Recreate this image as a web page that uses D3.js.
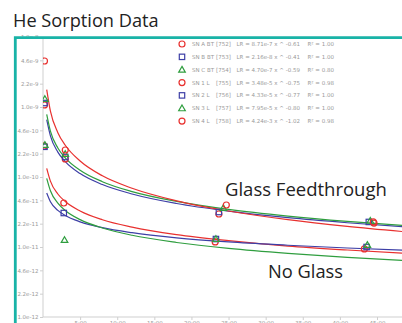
<!DOCTYPE html>
<html lang="en">
<head>
<meta charset="UTF-8">
<title>He Sorption Data</title>
<script src="https://d3js.org/d3.v7.min.js"></script>
<style>
  body { margin: 0; background: #fff; }
  svg { display: block; }
  .axis path, .axis line { stroke: #cfcfcf; }
  .axis text { fill: #9a9a9a; font-family: "DejaVu Sans", sans-serif; font-size: 5.5px; }
  .legend text { fill: #9a9a9a; font-family: "DejaVu Sans", sans-serif; font-size: 5.5px; }
  .big { fill: #222; font-family: "Open Sans", sans-serif; }
</style>
</head>
<body>
<svg width="402" height="323"></svg>
<script>
// series in legend order
const names  = ["SN A BT", "SN B BT", "SN C BT", "SN 1 L", "SN 2 L", "SN 3 L", "SN 4 L"];
const codes  = ["[752]", "[753]", "[754]", "[755]", "[756]", "[757]", "[758]"];
const fits   = ["LR = 8.71e-7 x ^ -0.61", "LR = 2.16e-8 x ^ -0.41", "LR = 4.70e-7 x ^ -0.59",
                "LR = 3.48e-5 x ^ -0.75", "LR = 4.33e-5 x ^ -0.77", "LR = 7.95e-5 x ^ -0.80",
                "LR = 4.24e-3 x ^ -1.02"];
const r2     = ["R² = 1.00", "R² = 1.00", "R² = 0.80", "R² = 0.98", "R² = 1.00", "R² = 1.00", "R² = 0.98"];
const colors = ["#e8312f", "#3d3fa6", "#2f9e3f", "#e8312f", "#3d3fa6", "#2f9e3f", "#e8312f"];
const shapes = ["circle", "square", "triangle", "circle", "square", "triangle", "circle"];

// measured points (hours, leak rate)
const ptTimes = [
  [0.2, 2.8, 23.2, 43.3],
  [0.2, 2.8, 23.3, 43.6],
  [0.25, 2.9, 23.3, 43.7],
  [0.2, 3.0, 23.7, 44.6],
  [0.2, 3.0, 23.7, 43.9],
  [0.25, 3.0, 24.3, 44.1],
  [0.2, 3.0, 24.7, 44.5]
];
const ptValues = [
  [2.77e-10, 4.25e-11, 1.18e-11, 9.4e-12],
  [2.7e-10, 3.06e-11, 1.30e-11, 1.0e-11],
  [2.87e-10, 1.26e-11, 1.30e-11, 1.07e-11],
  [1.07e-9, 1.81e-10, 2.96e-11, 2.2e-11],
  [1.14e-9, 1.93e-10, 3.16e-11, 2.28e-11],
  [1.30e-9, 2.13e-10, 3.61e-11, 2.37e-11],
  [4.54e-9, 2.43e-10, 3.98e-11, 2.28e-11]
];

// fit curves (SN 1 L has no visible line)
const fitTimes = [0.5, 1, 2, 3, 5, 8, 12, 18, 25, 33, 41, 48.5];
const fitValues = [
  [1.33e-10, 8.72e-11, 5.72e-11, 4.46e-11, 3.27e-11, 2.45e-11, 1.92e-11, 1.50e-11, 1.23e-11, 1.03e-11, 9.06e-12, 8.17e-12],
  [5.89e-11, 4.43e-11, 3.33e-11, 2.82e-11, 2.29e-11, 1.89e-11, 1.60e-11, 1.35e-11, 1.18e-11, 1.06e-11, 9.67e-12, 9.02e-12],
  [9.58e-11, 6.37e-11, 4.23e-11, 3.33e-11, 2.46e-11, 1.87e-11, 1.47e-11, 1.16e-11, 9.53e-12, 8.09e-12, 7.12e-12, 6.45e-12],
  null,
  [6.61e-10, 3.87e-10, 2.27e-10, 1.66e-10, 1.12e-10, 7.81e-11, 5.72e-11, 4.18e-11, 3.25e-11, 2.62e-11, 2.22e-11, 1.95e-11],
  [7.87e-10, 4.52e-10, 2.60e-10, 1.88e-10, 1.25e-10, 8.57e-11, 6.19e-11, 4.48e-11, 3.44e-11, 2.76e-11, 2.32e-11, 2.03e-11],
  [1.77e-9, 8.71e-10, 4.30e-10, 2.84e-10, 1.69e-10, 1.04e-10, 6.91e-11, 4.57e-11, 3.27e-11, 2.46e-11, 1.97e-11, 1.66e-11]
];

const xTicks = [5, 10, 15, 20, 25, 30, 35, 40, 45];
const yTicks = d3.range(-36, -23).map(k => Math.pow(10, k / 3));

const svg = d3.select("svg");

svg.append("text").attr("class", "big")
  .attr("x", 13).attr("y", 27)
  .style("font-size", "18.2px")
  .text("He Sorption Data");

const pL = 43, pT = 37, pB = 317, pR = 402;
const x = d3.scaleLinear().domain([0, 50]).range([pL, 414.1]);
const y = d3.scaleLog().domain([1e-12, 1e-8]).range([pB, pT]);

svg.append("defs").append("clipPath").attr("id", "plot")
  .append("rect").attr("x", pL).attr("y", pT)
  .attr("width", pR - pL).attr("height", pB - pT);

svg.append("g").attr("class", "axis")
  .attr("transform", `translate(${pL},0)`)
  .call(d3.axisLeft(y).tickValues(yTicks).tickFormat(d3.format(".1e")).tickSize(3).tickPadding(1.5))
  .call(g => g.select(".domain").attr("d", `M0,${pT}V${pB}`));

svg.append("g").attr("class", "axis")
  .attr("transform", `translate(0,${pB})`)
  .call(d3.axisBottom(x).tickValues(xTicks).tickFormat(d => d + ":00").tickSize(3).tickPadding(1))
  .call(g => g.select(".domain").attr("d", `M${pL},0H${pR + 20}`));

const plot = svg.append("g").attr("clip-path", "url(#plot)");

const line = d3.line()
  .x((d, i) => x(fitTimes[i]))
  .y(d => y(d))
  .curve(d3.curveMonotoneX);

fitValues.forEach((vals, s) => {
  if (!vals) return;
  plot.append("path")
    .attr("d", line(vals))
    .attr("fill", "none")
    .attr("stroke", colors[s])
    .attr("stroke-width", 1.2);
});

function marker(g, shape, cx, cy, color, sz) {
  if (shape === "circle") {
    g.append("circle").attr("cx", cx).attr("cy", cy).attr("r", sz * 0.5)
      .attr("fill", "none").attr("stroke", color).attr("stroke-width", 1.2);
  } else if (shape === "square") {
    g.append("rect").attr("x", cx - sz * 0.45).attr("y", cy - sz * 0.45)
      .attr("width", sz * 0.9).attr("height", sz * 0.9)
      .attr("fill", "none").attr("stroke", color).attr("stroke-width", 1.2);
  } else {
    const h = sz * 0.55;
    g.append("path")
      .attr("d", `M${cx},${cy - h}L${cx + h},${cy + h * 0.75}L${cx - h},${cy + h * 0.75}Z`)
      .attr("fill", "none").attr("stroke", color).attr("stroke-width", 1.2);
  }
}

ptValues.forEach((vals, s) => {
  vals.forEach((v, i) => marker(plot, shapes[s], x(ptTimes[s][i]), y(v), colors[s], 6));
});

const legend = svg.append("g").attr("class", "legend");
names.forEach((n, i) => {
  const ly = 44 + i * 12.85;
  marker(legend, shapes[i], 182, ly, colors[i], 6);
  const t = [[192, n], [216, codes[i]], [236.5, fits[i]], [307.5, r2[i]]];
  t.forEach(([tx, s]) => legend.append("text").attr("x", tx).attr("y", ly + 2).text(s));
});

svg.append("text").attr("class", "big")
  .attr("x", 225).attr("y", 196).style("font-size", "18.5px")
  .text("Glass Feedthrough");
svg.append("text").attr("class", "big")
  .attr("x", 268).attr("y", 278).style("font-size", "18.3px")
  .text("No Glass");

// teal frame
svg.append("path")
  .attr("d", `M15.3,${323 + 5}V37.6H${402 + 5}`)
  .attr("fill", "none").attr("stroke", "#19b3a7").attr("stroke-width", 2.8);
</script>
</body>
</html>
